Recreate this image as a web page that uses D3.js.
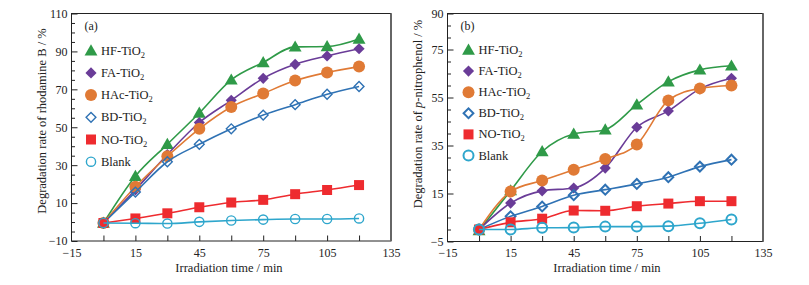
<!DOCTYPE html>
<html>
<head>
<meta charset="utf-8">
<script src="https://cdn.jsdelivr.net/npm/d3@7"></script>
<style>
  body { margin: 0; background: #fff; }
  svg text { font-family: "Liberation Serif", "Times New Roman", "DejaVu Serif", serif !important; fill: #222; }
  .tick text { font-size: 12px; }
  .axis path.domain { stroke: #222; }
  .axis line { stroke: #222; }
</style>
</head>
<body>
<svg width="809" height="285" font-family="Liberation Serif"></svg>
<script>
// x values (min), shared by both panels
const times = [0, 15, 30, 45, 60, 75, 90, 105, 120];
const seriesNames = ['HF', 'FA', 'HAc', 'BD', 'NO', 'Blank'];

// panel (a): rhodamine B
const rhbHF    = [-0.5, 24.2, 41, 57.5, 75, 84.2, 92.4, 92.6, 96.6];
const rhbFA    = [-0.5, 17, 35.6, 52.5, 64.2, 75.8, 83.2, 87.6, 91.4];
const rhbHAc   = [-0.5, 18.6, 34.7, 49.2, 60.7, 67.8, 74.6, 78.9, 82];
const rhbBD    = [-0.5, 15.8, 31.8, 41, 49.2, 56.4, 61.9, 67.4, 71.5];
const rhbNO    = [-0.5, 1.9, 4.6, 7.8, 10.3, 11.7, 14.7, 16.9, 19.5];
const rhbBlank = [-0.5, -0.6, -0.8, 0.1, 0.8, 1.3, 1.6, 1.6, 1.9];

// panel (b): p-nitrophenol
const pnpHF    = [-0.4, 16.2, 32.5, 39.8, 41.6, 52, 61.6, 66.5, 68.2];
const pnpFA    = [0, 11, 16.1, 17.3, 25.6, 42.6, 49.4, 58.6, 63];
const pnpHAc   = [0, 15.8, 20.4, 24.9, 29.4, 35.4, 53.8, 58.8, 60];
const pnpBD    = [0, 5.5, 9.6, 14.3, 16.6, 19, 21.8, 26.2, 29.1];
const pnpNO    = [0, 3, 4.5, 7.9, 7.8, 9.7, 10.8, 11.8, 11.8];
const pnpBlank = [0, 0, 0.7, 0.8, 1.2, 1.2, 1.4, 2.6, 4.2];

const xTickLabels = [-15, 15, 45, 75, 105, 135];
const xTicksAll = [0, 15, 30, 45, 60, 75, 90, 105, 120];
const yTicksA = [-10, 10, 30, 50, 70, 90, 110];
const yTicksB = [-5, 15, 35, 55, 75, 90];

const style = {
  HF:    {color: '#2f9a48', shape: 'triangle', fill: true},
  FA:    {color: '#6a3c98', shape: 'diamond', fill: true},
  HAc:   {color: '#e07a35', shape: 'circle', fill: true},
  BD:    {color: '#2f72b4', shape: 'diamond', fill: false},
  NO:    {color: '#ee2b2f', shape: 'square', fill: true},
  Blank: {color: '#2ea6cc', shape: 'circle', fill: false}
};

const svg = d3.select('svg');

const drawMarker = (g, name, x, y, big) => {
  const s = style[name];
  let el;
  if (s.shape === 'triangle') {
    el = g.append('path').attr('d', d3.symbol().type(d3.symbolTriangle).size(72)())
      .attr('transform', `translate(${x},${y + 1})`);
  } else if (s.shape === 'diamond') {
    el = g.append('path').attr('d', d3.symbol().type(d3.symbolSquare).size(s.fill ? 62 : 48)())
      .attr('transform', `translate(${x},${y}) rotate(45)`);
  } else if (s.shape === 'square') {
    el = g.append('path').attr('d', d3.symbol().type(d3.symbolSquare).size(100)())
      .attr('transform', `translate(${x},${y})`);
  } else {
    el = g.append('circle').attr('cx', x).attr('cy', y).attr('r', s.fill ? 6 : (big ? 5 : 4.6));
  }
  if (s.fill) el.attr('fill', s.color).attr('stroke', 'none');
  else el.attr('fill', 'none').attr('stroke', s.color).attr('stroke-width', big ? 2 : 1.4);
};

const panel = (opts) => {
  const {left, right, top, bottom, yDomain, yTicks, data, tag, yTitle, yTitleX, yTitleY, xTitleX, legX, legY, legStep, big} = opts;
  const x = d3.scaleLinear().domain([-15, 135]).range([left, right]);
  const y = d3.scaleLinear().domain(yDomain).range([bottom, top]);
  const g = svg.append('g');

  // frame
  g.append('rect').attr('x', left).attr('y', top)
    .attr('width', right - left).attr('height', bottom - top)
    .attr('fill', 'none').attr('stroke', '#222').attr('stroke-width', 1);
  g.append('line').attr('x1', right).attr('x2', right).attr('y1', top).attr('y2', bottom)
    .attr('stroke', '#666').attr('stroke-width', 2);

  // y axis: major + minor ticks pointing inward
  const minor = d3.range(yDomain[0], yDomain[1] + 0.1, 5).filter(v => !yTicks.includes(v));
  g.append('g').attr('class', 'axis').attr('transform', `translate(${left},0)`)
    .call(d3.axisLeft(y).tickValues(minor).tickSize(-3.5).tickFormat(''))
    .select('.domain').remove();
  g.append('g').attr('class', 'axis').attr('transform', `translate(${left},0)`)
    .call(d3.axisLeft(y).tickValues(yTicks).tickSize(-6).tickPadding(4).tickFormat(d => d < 0 ? '\u2212' + (-d) : d))
    .select('.domain').remove();

  // x axis
  g.append('g').attr('class', 'axis').attr('transform', `translate(0,${bottom})`)
    .call(d3.axisBottom(x).tickValues(xTicksAll).tickSize(-5.5).tickFormat(''))
    .select('.domain').remove();
  g.append('g').attr('class', 'axis').attr('transform', `translate(0,${bottom})`)
    .call(d3.axisBottom(x).tickValues(xTickLabels).tickSize(0).tickPadding(7).tickFormat(d => d < 0 ? '\u2212' + (-d) : d))
    .select('.domain').remove();

  svg.selectAll('.axis').attr('font-family', null);

  // titles
  g.append('text').attr('x', xTitleX).attr('y', 272).attr('text-anchor', 'middle')
    .style('font-size', '12.5px').text('Irradiation time / min');
  const yt = g.append('text').attr('transform', `translate(${yTitleX},${yTitleY}) rotate(-90)`)
    .attr('text-anchor', 'middle').style('font-size', '12.5px');
  yTitle.forEach(part => {
    const t = yt.append('tspan').text(part.t);
    if (part.i) t.style('font-style', 'italic');
  });

  g.append('text').attr('x', left + 13).attr('y', 30).style('font-size', '12px').text(tag);

  // lines and markers
  const line = d3.line().x(d => x(d[0])).y(d => y(d[1])).curve(d3.curveMonotoneX);
  seriesNames.forEach(name => {
    const pts = times.map((t, i) => [t, data[name][i]]);
    g.append('path').attr('d', line(pts)).attr('fill', 'none')
      .attr('stroke', style[name].color).attr('stroke-width', 1.6);
    pts.forEach(p => drawMarker(g, name, x(p[0]), y(p[1]), big));
  });

  // legend
  seriesNames.forEach((name, i) => {
    const ly = legY + i * legStep;
    drawMarker(g, name, legX, ly, big);
    const label = name === 'Blank' ? 'Blank' : name + '-TiO';
    const t = g.append('text').attr('x', legX + 10).attr('y', ly + 4).style('font-size', '12.5px').text(label);
    if (name !== 'Blank') t.append('tspan').attr('dy', 3).style('font-size', '8.5px').text('2');
  });
};

panel({
  left: 71.5, right: 391, top: 13.5, bottom: 241,
  yDomain: [-10, 110], yTicks: yTicksA,
  data: {HF: rhbHF, FA: rhbFA, HAc: rhbHAc, BD: rhbBD, NO: rhbNO, Blank: rhbBlank},
  tag: '(a)',
  yTitle: [{t: 'Degradation rate of rhodamine B / %'}],
  yTitleX: 46, yTitleY: 121, xTitleX: 229,
  legX: 91, legY: 50.7, legStep: 22.2, big: false
});

panel({
  left: 447.5, right: 763, top: 13.5, bottom: 241.5,
  yDomain: [-5, 90], yTicks: yTicksB,
  data: {HF: pnpHF, FA: pnpFA, HAc: pnpHAc, BD: pnpBD, NO: pnpNO, Blank: pnpBlank},
  tag: '(b)',
  yTitle: [{t: 'Degradation rate of '}, {t: 'p', i: true}, {t: '-nitrophenol / %'}],
  yTitleX: 422, yTitleY: 114, xTitleX: 607,
  legX: 468.5, legY: 50, legStep: 21.1, big: true
});
</script>
</body>
</html>
